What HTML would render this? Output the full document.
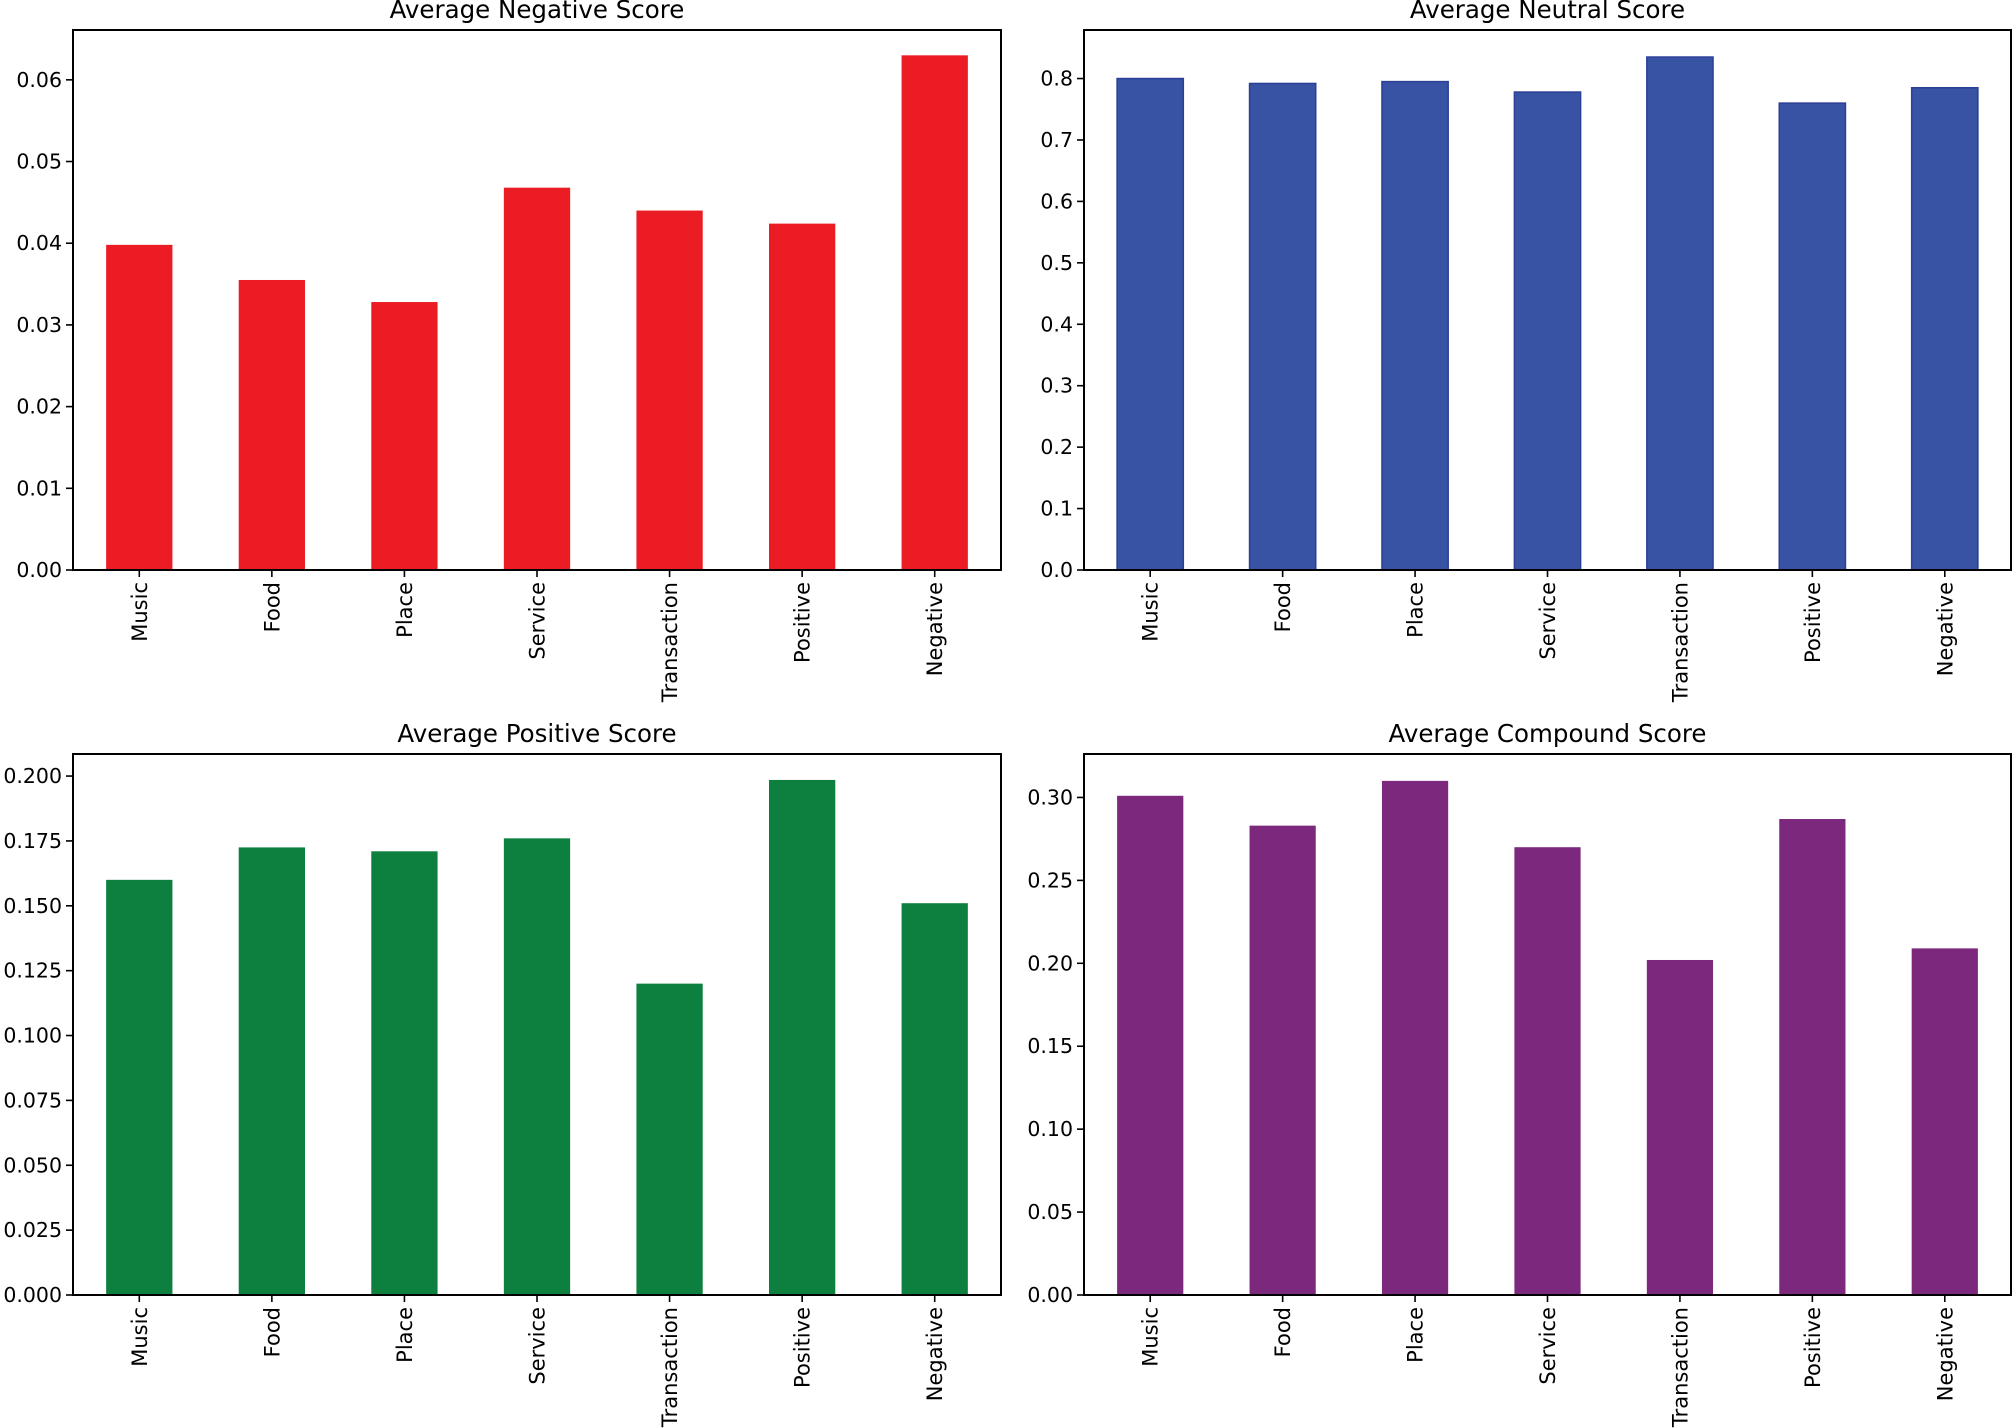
<!DOCTYPE html>
<html><head><meta charset="utf-8"><style>
html,body{margin:0;padding:0;background:#fff;width:2016px;height:1428px;overflow:hidden}
svg{display:block;font-family:"DejaVu Sans","Liberation Sans",sans-serif}
</style></head><body>
<svg id="fig" width="2016" height="1428" viewBox="0 0 2016 1428" xmlns="http://www.w3.org/2000/svg"></svg>
<script>
const categories = ["Music","Food","Place","Service","Transaction","Positive","Negative"];
const negativeValues = [0.0398,0.0355,0.0328,0.0468,0.0440,0.0424,0.0630];
const neutralValues = [0.800,0.792,0.795,0.778,0.835,0.760,0.785];
const positiveValues = [0.160,0.1725,0.171,0.176,0.120,0.1985,0.151];
const compoundValues = [0.301,0.283,0.310,0.270,0.202,0.287,0.209];
const negativeTicks = ["0.00","0.01","0.02","0.03","0.04","0.05","0.06"];
const neutralTicks = ["0.0","0.1","0.2","0.3","0.4","0.5","0.6","0.7","0.8"];
const positiveTicks = ["0.000","0.025","0.050","0.075","0.100","0.125","0.150","0.175","0.200"];
const compoundTicks = ["0.00","0.05","0.10","0.15","0.20","0.25","0.30"];

const NS="http://www.w3.org/2000/svg";
const svg=document.getElementById('fig');
function mk(tag,attrs,parent){const e=document.createElementNS(NS,tag);for(const k in attrs)e.setAttribute(k,attrs[k]);(parent||svg).appendChild(e);return e;}

function panel(key,title,values,ticks,ymax,box,fill,stroke){
  const g=mk('g',{});
  
  
  const {l,t,r,b}=box;
  const n=categories.length;
  const xs=i=>l+(i+0.5)*(r-l)/n;
  const ys=v=>b-(v/ymax)*(b-t);
  const bw=0.5*(r-l)/n;
  values.forEach((v,i)=>{
    const rect=mk('rect',{x:xs(i)-bw/2,y:ys(v),width:bw,height:b-ys(v),fill:fill,stroke:stroke||'none','stroke-width':stroke?1.5:0},g);
    
    
  });
  const frame=mk('rect',{x:l,y:t,width:r-l,height:b-t,fill:'none',stroke:'#000','stroke-width':2},g);
  
  
  ticks.forEach(s=>{
    const y=ys(parseFloat(s));
    mk('line',{x1:l-7,x2:l,y1:y,y2:y,stroke:'#000','stroke-width':1.6},g);
    const tx=mk('text',{x:l-11,y:y+7,'text-anchor':'end','font-size':20.5,fill:'#000'},g);
    tx.textContent=s;
    
    
  });
  categories.forEach((c,i)=>{
    const x=xs(i);
    mk('line',{x1:x,x2:x,y1:b,y2:b+7,stroke:'#000','stroke-width':1.6},g);
    const tx=mk('text',{x:0,y:0,'text-anchor':'end','font-size':21,fill:'#000',transform:`translate(${x+7.5},${b+12}) rotate(-90)`},g);
    tx.textContent=c;
    
    
  });
  const tt=mk('text',{x:(l+r)/2,y:t-12,'text-anchor':'middle','font-size':24.5,fill:'#000'},g);
  tt.textContent=title;
  
  
}
panel('negative','Average Negative Score',negativeValues,negativeTicks,0.0661,{l:73,t:30,r:1001,b:570},'#ec1c24');
panel('neutral','Average Neutral Score',neutralValues,neutralTicks,0.879,{l:1084,t:30,r:2011,b:570},'#3953a4','#2b3f96');
panel('positive','Average Positive Score',positiveValues,positiveTicks,0.2085,{l:73,t:754,r:1001,b:1295},'#0d8040');
panel('compound','Average Compound Score',compoundValues,compoundTicks,0.3262,{l:1084,t:754,r:2011,b:1295},'#7b287d');
</script>
</body></html>
